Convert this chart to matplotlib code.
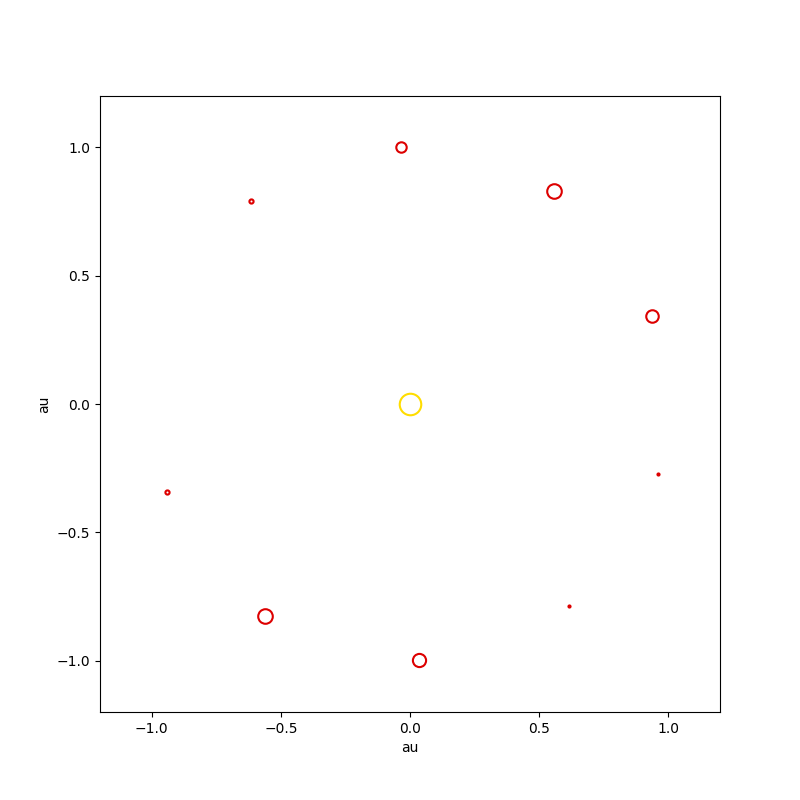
import numpy as np
import matplotlib
matplotlib.use("Agg")
import matplotlib.pyplot as plt

# planet positions (au) and marker sizes
x_pos = [-0.035, 0.557, 0.937, 0.960, 0.615, 0.035, -0.561, -0.941, -0.615]
y_pos = [1.001, 0.829, 0.342, -0.272, -0.786, -0.997, -0.827, -0.341, 0.790]
sizes = [7.5, 10.5, 9.0, 1.5, 1.5, 9.5, 10.5, 3.0, 3.0]

sun_x, sun_y, sun_size = 0.0, 0.0, 15.5

fig = plt.figure(figsize=(8, 8), dpi=100)
ax = fig.add_subplot(111)

ax.plot(sun_x, sun_y, 'o', markerfacecolor='none', markeredgecolor='#ffdd00',
        markersize=sun_size, markeredgewidth=1.5)
for xi, yi, s in zip(x_pos, y_pos, sizes):
    ax.plot(xi, yi, 'o', markerfacecolor='none', markeredgecolor='#dd0000',
            markersize=s, markeredgewidth=1.5)

ax.set_xlim(-1.2, 1.2)
ax.set_ylim(-1.2, 1.2)
ax.set_xlabel("au")
ax.set_ylabel("au")

fig.savefig("out.png")
